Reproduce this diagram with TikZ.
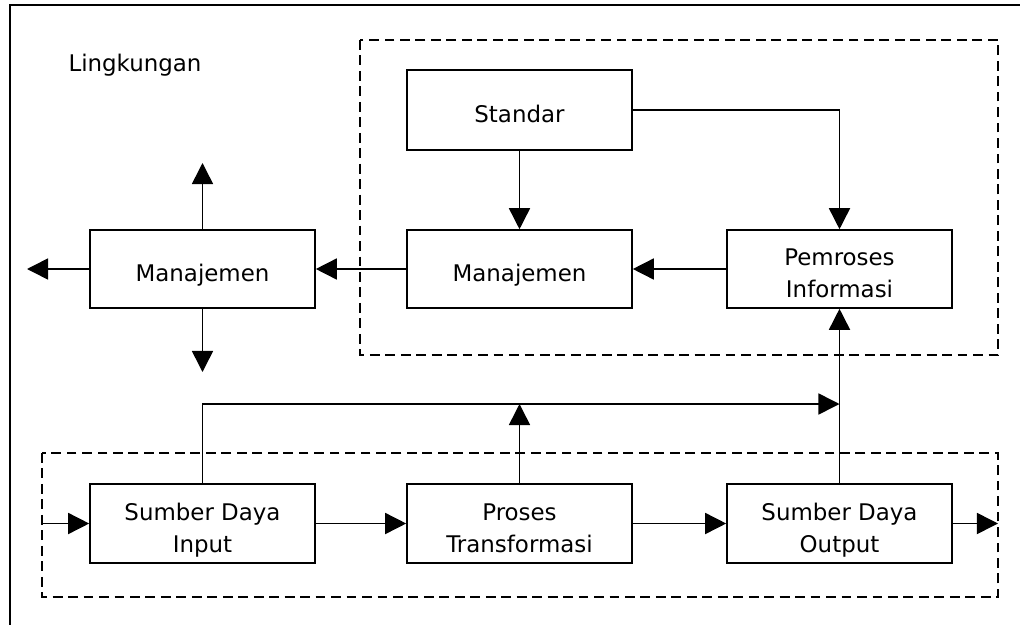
\documentclass[tikz,border=0pt]{standalone}
\usepackage{fontspec}
\setmainfont{DejaVu Sans}
\usepackage{tikz}
\usetikzlibrary{arrows.meta}

\begin{document}
\begin{tikzpicture}[x=0.025cm, y=-0.025cm,
    kotak/.style={rectangle, draw, line width=1.1pt, minimum width=5.625cm, minimum height=1.95cm, align=center, text depth=0pt, text height=18.4pt, font=\fontsize{16.3}{22.7}\selectfont},
    dua/.style={text height=41pt},
    panah/.style={line width=1.1pt, -{Triangle[length=15pt, width=15pt]}},
    batas/.style={line width=0.9pt, dash pattern=on 7pt off 4pt}]
            \useasboundingbox (0,0) rectangle (1021,625);
            \draw [line width=1.1pt] (10,625) -- (10,5) -- (1020,5);
            \node (lingkungan) at (135,65) [font=\fontsize{16.3}{20}\selectfont] {Lingkungan};
            \draw [batas] (360,40) rectangle (998,355);
            \draw [batas] (42,453) rectangle (998,597);
            \node (standar) at (519.5,110) [kotak, minimum height=2cm] {Standar};
            \node (man2) at (519.5,269) [kotak] {Manajemen};
            \node (pemroses) at (839.5,269) [kotak, dua] {Pemroses\\Informasi};
            \node (man1) at (202.5,269) [kotak] {Manajemen};
            \node (input) at (202.5,523.5) [kotak, dua, minimum height=1.975cm] {Sumber Daya\\Input};
            \node (proses) at (519.5,523.5) [kotak, dua, minimum height=1.975cm] {Proses\\Transformasi};
            \node (output) at (839.5,523.5) [kotak, dua, minimum height=1.975cm] {Sumber Daya\\Output};
            \coordinate (atas) at (202.5,163);
            \coordinate (bawah) at (202.5,372);
            \coordinate (kiri) at (27,269);
            \coordinate (balikkanan) at (839.5,404);
            \coordinate (baliktengah) at (519.5,404);
            \coordinate (masuk) at (42,523.5);
            \coordinate (keluar) at (998,523.5);
            \draw [panah] (standar) -- (man2);
            \draw [panah] (standar.east) -| (pemroses.north);
            \draw [panah] (pemroses) -- (man2);
            \draw [panah] (man2) -- (man1);
            \draw [panah] (man1.north) -- (atas);
            \draw [panah] (man1.south) -- (bawah);
            \draw [panah] (man1.west) -- (kiri);
            \draw [panah] (input.north) |- (balikkanan);
            \draw [panah] (proses.north) -- (baliktengah);
            \draw [panah] (output.north) -- (pemroses.south);
            \draw [panah] (masuk) -- (input);
            \draw [panah] (input) -- (proses);
            \draw [panah] (proses) -- (output);
            \draw [panah] (output) -- (keluar);
        \end{tikzpicture}
\end{document}
